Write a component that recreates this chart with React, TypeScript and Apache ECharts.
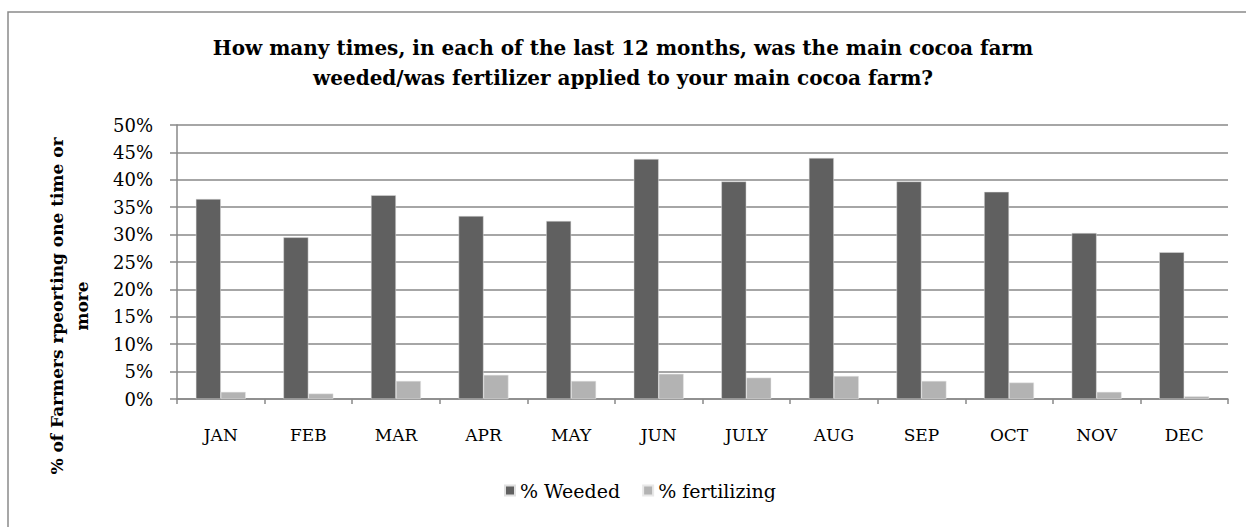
import React, { useEffect, useRef } from "react";
import * as echarts from "echarts";

const months = ["JAN", "FEB", "MAR", "APR", "MAY", "JUN", "JULY", "AUG", "SEP", "OCT", "NOV", "DEC"];
const weeded = [36.5, 29.5, 37.2, 33.4, 32.5, 43.8, 39.7, 44.0, 39.7, 37.8, 30.3, 26.8];
const fertilizing = [1.3, 1.0, 3.3, 4.4, 3.3, 4.6, 3.9, 4.2, 3.3, 3.0, 1.3, 0.5];
const yTicks = { min: 0, max: 50, interval: 5 };

const FONT = "'DejaVu Serif', 'Liberation Serif', serif";

export default function App() {
  const ref = useRef<HTMLDivElement>(null);
  useEffect(() => {
    if (!ref.current) return;
    const chart = echarts.init(ref.current, null, { renderer: "svg" });
    chart.setOption({
      animation: false,
      backgroundColor: "#ffffff",
      textStyle: { fontFamily: FONT },
      title: {
        text: "How many times, in each of the last 12 months, was the main cocoa farm\nweeded/was fertilizer applied to your main cocoa farm?",
        left: "center",
        top: 28,
        textStyle: { fontFamily: FONT, fontWeight: "bold", fontSize: 20, lineHeight: 30, color: "#000" },
      },
      legend: {
        bottom: 22,
        left: 499,
        itemWidth: 10,
        itemHeight: 10,
        itemGap: 22,
        icon: "rect",
        textStyle: { fontFamily: FONT, fontSize: 19, color: "#000" },
        data: ["% Weeded", "% fertilizing"],
      },
      grid: { left: 177, right: 18, top: 125, bottom: 128 },
      xAxis: {
        type: "category",
        data: months,
        axisLine: { lineStyle: { color: "#888", width: 1.5 } },
        axisTick: { show: true, length: 5, alignWithLabel: false, lineStyle: { color: "#888", width: 1.5 } },
        axisLabel: { fontFamily: FONT, fontSize: 17, color: "#000", margin: 27 },
      },
      yAxis: {
        type: "value",
        min: yTicks.min,
        max: yTicks.max,
        interval: yTicks.interval,
        axisLine: { show: true, lineStyle: { color: "#888", width: 1.5 } },
        axisTick: { show: true, length: 7, lineStyle: { color: "#888", width: 1.5 } },
        splitLine: { lineStyle: { color: "#888", width: 1.5 } },
        axisLabel: { fontFamily: FONT, fontSize: 18, color: "#000", margin: 24, formatter: "{value}%" },
      },
      series: [
        {
          name: "% Weeded",
          type: "bar",
          data: weeded,
          barGap: "0%",
          barCategoryGap: "43%",
          itemStyle: { color: "#606060", borderColor: "#e0e0e0", borderWidth: 0.5 },
        },
        {
          name: "% fertilizing",
          type: "bar",
          data: fertilizing,
          itemStyle: { color: "#b3b3b3", borderColor: "#e8e8e8", borderWidth: 0.5 },
        },
      ],
      graphic: [
        {
          type: "rect",
          shape: { x: 8, y: 12, width: 1300, height: 600 },
          style: { fill: "none", stroke: "#8a8a8a", lineWidth: 1.5 },
          silent: true,
        },
        {
          type: "text",
          x: 69,
          y: 306,
          rotation: Math.PI / 2,
          style: {
            text: "% of Farmers rpeorting one time or\nmore",
            fontFamily: FONT,
            fontWeight: "bold",
            fontSize: 17,
            lineHeight: 25,
            fill: "#000",
            textAlign: "center",
            textVerticalAlign: "middle",
          },
        },
      ],
    });
    return () => chart.dispose();
  }, []);
  return (
    <div
      ref={ref}
      style={{ position: "fixed", left: 0, top: 0, width: 1246, height: 527 }}
    />
  );
}
